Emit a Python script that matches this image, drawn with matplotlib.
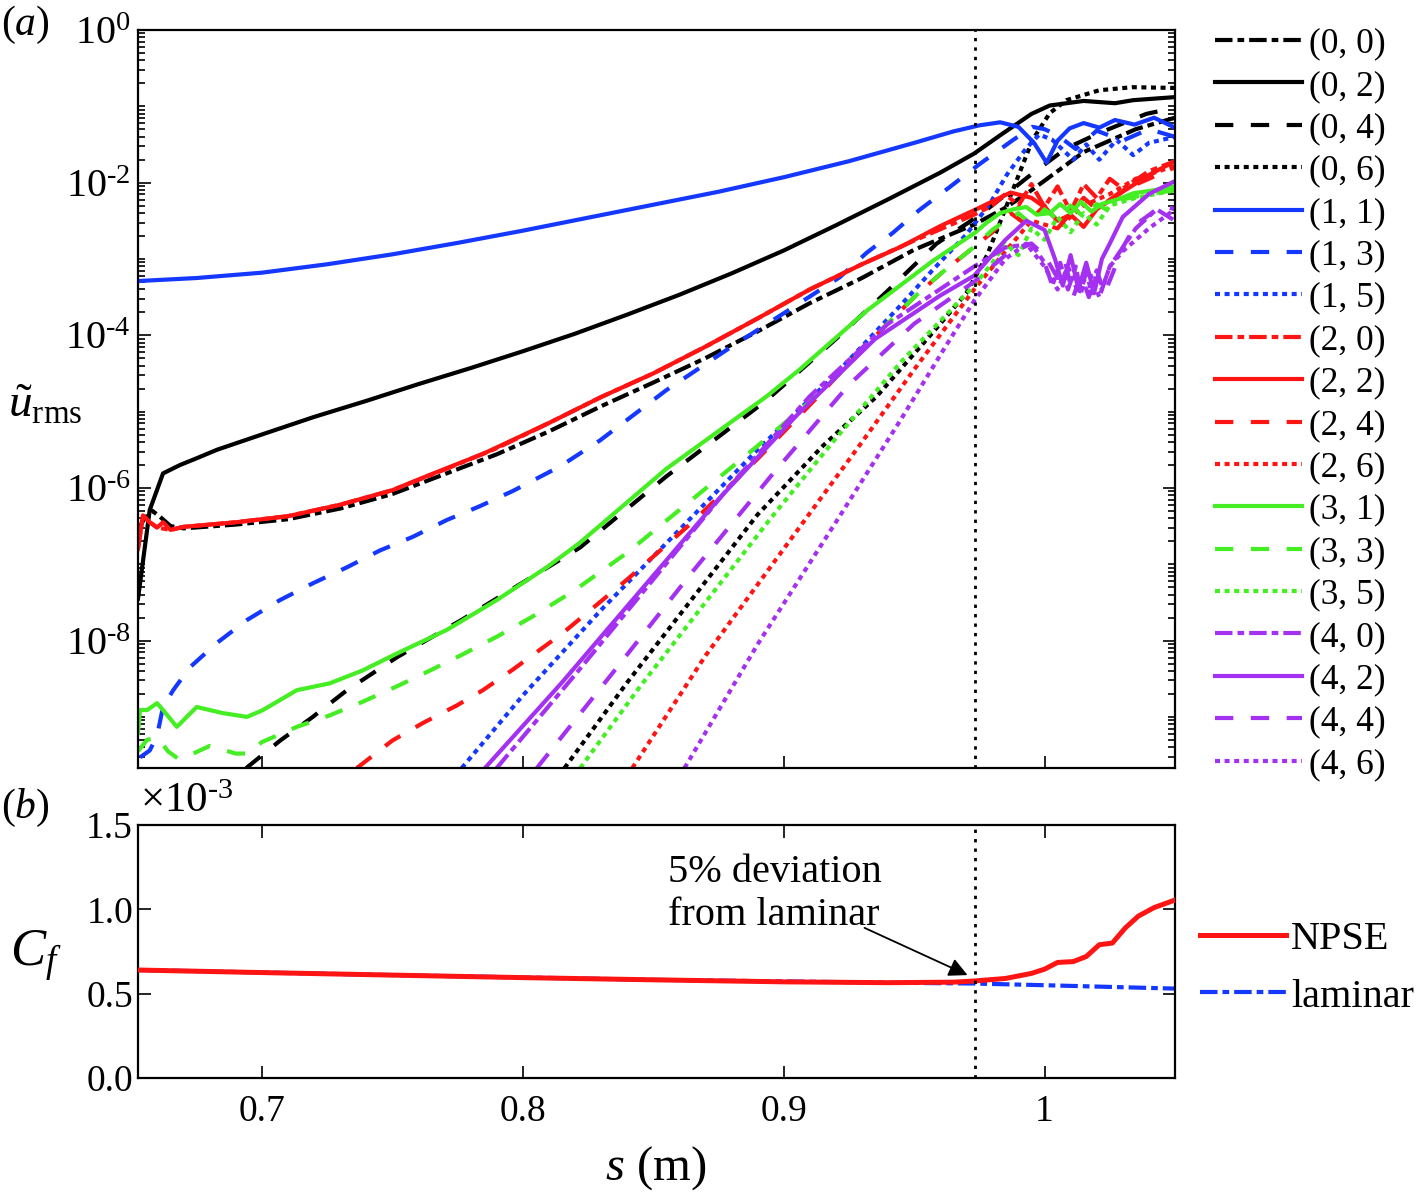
import numpy as np
import matplotlib
matplotlib.use('Agg')
import matplotlib.pyplot as plt
from matplotlib.ticker import FixedLocator, FixedFormatter, NullFormatter

plt.rcParams['font.family'] = ['Liberation Serif', 'DejaVu Serif']
plt.rcParams['mathtext.fontset'] = 'custom'
plt.rcParams['mathtext.rm'] = 'Liberation Serif'
plt.rcParams['mathtext.it'] = 'Liberation Serif:italic'
plt.rcParams['mathtext.bf'] = 'Liberation Serif:bold'
plt.rcParams['axes.unicode_minus'] = False

# ---- data: s (m) and log10 of u_rms for each mode (m, n) ----
s_00 = [0.6525, 0.655, 0.658, 0.661, 0.665, 0.67, 0.69, 0.71, 0.73, 0.75, 0.77, 0.79, 0.81, 0.83, 0.85, 0.87, 0.89, 0.91, 0.93, 0.95, 0.973, 0.985, 0.995, 1.005, 1.015, 1.025, 1.035, 1.05]
lg_00 = [-6.55, -6.40, -6.30, -6.38, -6.50, -6.53, -6.48, -6.41, -6.27, -6.08, -5.82, -5.56, -5.26, -4.93, -4.62, -4.30, -3.95, -3.58, -3.25, -2.88, -2.55, -2.33, -2.10, -1.85, -1.60, -1.45, -1.30, -1.15]

s_02 = [0.6525, 0.6533, 0.657, 0.6621, 0.6686, 0.6751, 0.6828, 0.70, 0.72, 0.74, 0.76, 0.78, 0.80, 0.82, 0.84, 0.86, 0.88, 0.90, 0.92, 0.94, 0.96, 0.973, 0.983, 0.995, 1.002, 1.015, 1.027, 1.034, 1.05]
lg_02 = [-7.45, -7.25, -6.29, -5.81, -5.70, -5.61, -5.50, -5.30, -5.07, -4.86, -4.64, -4.43, -4.21, -3.98, -3.73, -3.47, -3.19, -2.89, -2.56, -2.22, -1.87, -1.62, -1.38, -1.10, -0.99, -0.93, -0.96, -0.92, -0.88]

s_04 = [0.694, 0.707, 0.7195, 0.7326, 0.7517, 0.777, 0.80, 0.822, 0.855, 0.8935, 0.92, 0.9395, 0.9586, 0.971, 0.978, 0.9954, 1.0084, 1.021, 1.039, 1.05]
lg_04 = [-9.67, -9.31, -9.00, -8.65, -8.22, -7.72, -7.24, -6.78, -5.85, -4.85, -4.05, -3.43, -2.80, -2.52, -2.35, -1.88, -1.55, -1.35, -1.10, -1.02]

s_06 = [0.816, 0.84, 0.865, 0.89, 0.915, 0.9357, 0.957, 0.970, 0.978, 0.9855, 0.9954, 1.002, 1.0084, 1.021, 1.0337, 1.05]
lg_06 = [-9.67, -8.55, -7.45, -6.35, -5.45, -4.80, -3.97, -3.45, -2.95, -2.30, -1.44, -1.09, -0.92, -0.79, -0.75, -0.76]

s_11 = [0.6525, 0.675, 0.70, 0.725, 0.75, 0.775, 0.80, 0.825, 0.85, 0.875, 0.90, 0.925, 0.95, 0.965, 0.975, 0.983, 0.990, 0.996, 1.0008, 1.005, 1.0096, 1.015, 1.021, 1.027, 1.0345, 1.042, 1.05]
lg_11 = [-3.29, -3.25, -3.18, -3.07, -2.94, -2.79, -2.63, -2.46, -2.29, -2.12, -1.93, -1.72, -1.48, -1.33, -1.25, -1.21, -1.27, -1.48, -1.74, -1.45, -1.29, -1.22, -1.28, -1.18, -1.24, -1.15, -1.28]

s_13 = [0.6533, 0.657, 0.6598, 0.6621, 0.666, 0.6724, 0.6828, 0.6943, 0.7069, 0.7195, 0.7326, 0.7452, 0.7579, 0.7709, 0.7835, 0.7962, 0.8142, 0.8295, 0.855, 0.88, 0.9015, 0.9215, 0.9318, 0.9418, 0.952, 0.9636, 0.975, 0.988, 0.9954, 1.0, 1.005, 1.012, 1.02, 1.03, 1.04, 1.05]
lg_13 = [-9.53, -9.44, -9.25, -8.87, -8.65, -8.35, -8.03, -7.73, -7.47, -7.25, -7.04, -6.82, -6.64, -6.42, -6.24, -6.04, -5.72, -5.38, -4.72, -4.15, -3.68, -3.24, -2.92, -2.66, -2.36, -2.06, -1.76, -1.44, -1.27, -1.30, -1.38, -1.56, -1.32, -1.45, -1.30, -1.40]

s_15 = [0.7766, 0.80, 0.83, 0.86, 0.89, 0.9188, 0.9318, 0.9445, 0.957, 0.970, 0.979, 0.9855, 0.993, 0.998, 1.003, 1.011, 1.016, 1.021, 1.0276, 1.034, 1.04, 1.05]
lg_15 = [-9.67, -8.72, -7.60, -6.55, -5.50, -4.55, -4.08, -3.62, -3.15, -2.68, -2.28, -1.90, -1.55, -1.37, -1.44, -1.70, -1.50, -1.70, -1.44, -1.64, -1.48, -1.40]

s_20 = [0.6525, 0.6544, 0.657, 0.66, 0.665, 0.67, 0.69, 0.71, 0.73, 0.75, 0.77, 0.79, 0.81, 0.83, 0.85, 0.87, 0.89, 0.91, 0.93, 0.95, 0.973, 0.98, 0.985, 0.99, 0.995, 1.0, 1.005, 1.01, 1.015, 1.02, 1.025, 1.03, 1.04, 1.05]
lg_20 = [-6.80, -6.36, -6.45, -6.52, -6.55, -6.51, -6.45, -6.37, -6.22, -6.03, -5.76, -5.48, -5.15, -4.81, -4.50, -4.15, -3.78, -3.40, -3.07, -2.76, -2.42, -2.30, -2.15, -2.30, -2.02, -2.32, -2.05, -2.38, -2.02, -2.20, -1.95, -2.08, -1.85, -1.72]

s_22 = [0.6525, 0.6544, 0.657, 0.6598, 0.6621, 0.665, 0.67, 0.69, 0.71, 0.73, 0.75, 0.765, 0.785, 0.81, 0.83, 0.85, 0.87, 0.89, 0.91, 0.93, 0.945, 0.96, 0.975, 0.987, 0.995, 1.0, 1.005, 1.01, 1.015, 1.02, 1.03, 1.04, 1.05]
lg_22 = [-6.80, -6.36, -6.45, -6.52, -6.45, -6.55, -6.51, -6.45, -6.37, -6.22, -6.03, -5.82, -5.55, -5.15, -4.81, -4.50, -4.15, -3.78, -3.40, -3.07, -2.84, -2.57, -2.33, -2.13, -2.20, -2.32, -2.50, -2.42, -2.58, -2.35, -2.12, -1.90, -1.72]

s_24 = [0.7364, 0.75, 0.7617, 0.7747, 0.7847, 0.7962, 0.8154, 0.84, 0.865, 0.89, 0.9138, 0.9226, 0.9318, 0.9406, 0.951, 0.961, 0.9724, 0.98, 0.987, 0.993, 1.0, 1.005, 1.01, 1.015, 1.02, 1.03, 1.04, 1.05]
lg_24 = [-9.67, -9.31, -9.08, -8.85, -8.65, -8.38, -7.90, -7.20, -6.45, -5.62, -4.78, -4.46, -4.13, -3.82, -3.47, -3.17, -2.86, -2.65, -2.40, -2.55, -2.30, -2.60, -2.40, -2.20, -2.35, -2.10, -1.95, -1.80]

s_26 = [0.842, 0.87, 0.90, 0.93, 0.95, 0.973, 0.985, 0.995, 1.005, 1.015, 1.025, 1.035, 1.05]
lg_26 = [-9.67, -8.20, -6.80, -5.40, -4.45, -3.40, -2.90, -2.50, -2.60, -2.30, -2.15, -1.95, -1.78]

s_31 = [0.6525, 0.6533, 0.656, 0.6598, 0.6621, 0.6674, 0.675, 0.685, 0.6943, 0.7004, 0.7134, 0.726, 0.7387, 0.7517, 0.7709, 0.79, 0.8092, 0.8218, 0.855, 0.8935, 0.9061, 0.9318, 0.957, 0.9732, 0.978, 0.983, 0.988, 0.993, 0.997, 1.002, 1.006, 1.01, 1.014, 1.018, 1.022, 1.028, 1.034, 1.042, 1.05]
lg_31 = [-9.21, -8.91, -8.91, -8.82, -8.91, -9.13, -8.87, -8.95, -9.00, -8.91, -8.65, -8.56, -8.39, -8.17, -7.86, -7.47, -7.04, -6.72, -5.75, -4.80, -4.45, -3.68, -3.03, -2.66, -2.52, -2.40, -2.35, -2.32, -2.42, -2.40, -2.28, -2.40, -2.25, -2.38, -2.28, -2.22, -2.14, -2.10, -2.05]

s_33 = [0.6525, 0.656, 0.66, 0.664, 0.668, 0.6724, 0.68, 0.69, 0.6943, 0.70, 0.7134, 0.726, 0.7387, 0.7517, 0.764, 0.777, 0.79, 0.803, 0.8195, 0.84, 0.865, 0.89, 0.9138, 0.9226, 0.9318, 0.9406, 0.951, 0.961, 0.9724, 0.98, 0.985, 0.99, 0.995, 1.0, 1.005, 1.01, 1.015, 1.02, 1.025, 1.03, 1.04, 1.05]
lg_33 = [-9.45, -9.30, -9.27, -9.45, -9.55, -9.50, -9.38, -9.48, -9.48, -9.33, -9.13, -8.98, -8.80, -8.60, -8.40, -8.18, -7.95, -7.70, -7.35, -6.85, -6.15, -5.45, -4.76, -4.46, -4.13, -3.82, -3.47, -3.17, -2.86, -2.62, -2.50, -2.40, -2.55, -2.35, -2.48, -2.30, -2.45, -2.28, -2.38, -2.22, -2.15, -2.10]

s_35 = [0.822, 0.845, 0.87, 0.895, 0.92, 0.945, 0.973, 0.98, 0.985, 0.99, 0.995, 1.0, 1.005, 1.01, 1.015, 1.02, 1.025, 1.035, 1.05]
lg_35 = [-9.67, -8.60, -7.50, -6.40, -5.35, -4.35, -3.35, -3.05, -2.80, -2.95, -2.60, -2.75, -2.45, -2.65, -2.40, -2.55, -2.30, -2.20, -2.10]

s_40 = [0.790, 0.82, 0.85, 0.88, 0.91, 0.94, 0.973, 0.985, 0.995, 1.0, 1.003, 1.006, 1.009, 1.012, 1.014, 1.016, 1.018, 1.02, 1.022, 1.025, 1.03, 1.035, 1.043, 1.05]
lg_40 = [-9.67, -8.45, -7.20, -5.95, -4.80, -3.85, -3.10, -2.85, -2.80, -3.05, -3.35, -3.05, -3.40, -3.10, -3.45, -3.15, -3.45, -3.20, -3.40, -3.10, -2.85, -2.60, -2.35, -2.50]

s_42 = [0.7855, 0.815, 0.845, 0.875, 0.905, 0.935, 0.96, 0.973, 0.985, 0.993, 1.0, 1.004, 1.007, 1.01, 1.013, 1.016, 1.019, 1.022, 1.025, 1.03, 1.04, 1.05]
lg_42 = [-9.67, -8.55, -7.35, -6.15, -5.05, -4.05, -3.48, -3.22, -2.75, -2.50, -2.62, -3.00, -3.35, -2.95, -3.40, -3.05, -3.45, -3.00, -2.80, -2.45, -2.15, -1.98]

s_44 = [0.8054, 0.835, 0.865, 0.895, 0.925, 0.95, 0.973, 0.985, 0.995, 1.0, 1.005, 1.008, 1.011, 1.014, 1.017, 1.02, 1.023, 1.026, 1.03, 1.035, 1.045, 1.05]
lg_44 = [-9.67, -8.40, -7.10, -5.85, -4.65, -3.85, -3.30, -2.95, -2.80, -2.95, -3.25, -3.05, -3.50, -3.20, -3.50, -3.15, -3.45, -3.20, -2.85, -2.55, -2.30, -2.35]

s_46 = [0.862, 0.89, 0.92, 0.945, 0.962, 0.973, 0.985, 0.993, 1.0, 1.005, 1.009, 1.013, 1.017, 1.021, 1.025, 1.03, 1.04, 1.05]
lg_46 = [-9.67, -8.05, -6.45, -5.10, -4.15, -3.55, -3.00, -2.80, -3.10, -3.40, -3.10, -3.45, -3.15, -3.50, -3.10, -2.90, -2.60, -2.35]

# skin friction (x 1e-3)
s_cf = [0.6525, 0.70, 0.75, 0.80, 0.85, 0.90, 0.94, 0.965, 0.973, 0.985, 0.995, 1.0, 1.005, 1.011, 1.016, 1.021, 1.026, 1.031, 1.036, 1.042, 1.05]
cf_npse = [0.64, 0.625, 0.61, 0.595, 0.582, 0.57, 0.565, 0.568, 0.575, 0.59, 0.62, 0.645, 0.685, 0.69, 0.72, 0.79, 0.80, 0.89, 0.96, 1.01, 1.055]
s_lam = [0.6525, 0.75, 0.85, 0.94, 0.973, 1.0, 1.05]
cf_lam = [0.64, 0.61, 0.582, 0.565, 0.56, 0.55, 0.53]

s_dev = 0.9732

modes = [('(0, 0)', s_00, lg_00), ('(0, 2)', s_02, lg_02), ('(0, 4)', s_04, lg_04), ('(0, 6)', s_06, lg_06),
         ('(1, 1)', s_11, lg_11), ('(1, 3)', s_13, lg_13), ('(1, 5)', s_15, lg_15),
         ('(2, 0)', s_20, lg_20), ('(2, 2)', s_22, lg_22), ('(2, 4)', s_24, lg_24), ('(2, 6)', s_26, lg_26),
         ('(3, 1)', s_31, lg_31), ('(3, 3)', s_33, lg_33), ('(3, 5)', s_35, lg_35),
         ('(4, 0)', s_40, lg_40), ('(4, 2)', s_42, lg_42), ('(4, 4)', s_44, lg_44), ('(4, 6)', s_46, lg_46)]

colors = {0: 'black', 1: '#1438ff', 2: '#ff1414', 3: '#44ee22', 4: '#a431f2'}
# n -> style: 0 dash-dot, 1/2 solid, 3/4 dashed, 5/6 dotted
dashes = {0: (4.2, 1.2, 1.6, 1.2), 1: None, 2: None, 3: (4.4, 4.2), 4: (4.4, 4.2), 5: (1.2, 1.1), 6: (1.2, 1.1)}

fig = plt.figure(figsize=(14.18, 11.93), dpi=100)
ax1 = fig.add_axes([0.0973, 0.3562, 0.7313, 0.6187])
ax2 = fig.add_axes([0.0973, 0.0964, 0.7313, 0.2121])

lw = 3.0
for lab, s, lg in modes:
    m = int(lab[1]); n = int(lab[4])
    line, = ax1.plot(s, 10.0 ** np.array(lg), color=colors[m], lw=lw, label=lab)
    if dashes[n] is not None:
        line.set_dashes(dashes[n])

ax1.axvline(s_dev, color='k', lw=2.0, dashes=(1.2, 2.2), zorder=5)
ax1.set_yscale('log')
ax1.set_xlim(0.6525, 1.05)
ax1.set_ylim(10 ** -9.67, 1.0)
major = [1e-8, 1e-6, 1e-4, 1e-2, 1e0]
ax1.yaxis.set_major_locator(FixedLocator(major))
ax1.yaxis.set_major_formatter(FixedFormatter([r'$10^{\text{-}8}$', r'$10^{\text{-}6}$', r'$10^{\text{-}4}$',
                                              r'$10^{\text{-}2}$', r'$10^{0}$']))
minor = [k * 10.0 ** e for e in range(-10, 1) for k in range(1, 10) if not (k == 1 and e % 2 == 0)]
ax1.yaxis.set_minor_locator(FixedLocator(minor))
ax1.yaxis.set_minor_formatter(NullFormatter())
ax1.set_xticks([0.7, 0.8, 0.9, 1.0])
ax1.set_xticklabels([])
ax1.tick_params(axis='y', which='both', direction='in', left=True, right=True, labelsize=29, width=1.2, pad=5)
ax1.tick_params(axis='y', which='major', length=9)
ax1.tick_params(axis='y', which='minor', length=5)
ax1.tick_params(axis='x', direction='in', bottom=True, top=False, length=9, width=1.2)
for sp in ax1.spines.values():
    sp.set_linewidth(1.6)

ax1.legend(loc='upper left', bbox_to_anchor=(0.857, 0.977), bbox_transform=fig.transFigure,
           frameon=False, fontsize=25.5, handlelength=2.45, handletextpad=0.2, labelspacing=0.265,
           borderpad=0, borderaxespad=0)

# bottom panel
ax2.plot(s_lam, cf_lam, color='#1438ff', lw=3.0, dashes=(4.2, 1.2, 1.6, 1.2), label='laminar', zorder=2)
ax2.plot(s_cf, cf_npse, color='#ff1414', lw=3.6, label='NPSE', zorder=3)
ax2.axvline(s_dev, color='k', lw=2.0, dashes=(1.2, 2.2), zorder=5)
ax2.set_xlim(0.6525, 1.05)
ax2.set_ylim(0, 1.5)
ax2.set_xticks([0.7, 0.8, 0.9, 1.0])
ax2.set_xticklabels(['0.7', '0.8', '0.9', '1'])
ax2.set_yticks([0, 0.5, 1.0, 1.5])
ax2.set_yticklabels(['0.0', '0.5', '1.0', '1.5'])
ax2.tick_params(which='both', direction='in', left=True, right=True, top=True, bottom=True,
                labelsize=27, length=9, width=1.2)
ax2.tick_params(axis='x', pad=12)
for sp in ax2.spines.values():
    sp.set_linewidth(1.6)

h, l = ax2.get_legend_handles_labels()
ax2.legend(h[::-1], l[::-1], loc='upper left', bbox_to_anchor=(0.846, 0.228), bbox_transform=fig.transFigure,
           frameon=False, fontsize=29, handlelength=2.15, handletextpad=0.12, labelspacing=0.5,
           borderpad=0, borderaxespad=0)

ax2.text(0.8556, 1.33, '5% deviation\nfrom laminar', fontsize=29, va='top', ha='left', linespacing=1.22)
ax2.annotate('', xy=(0.9705, 0.61), xytext=(0.931, 0.89),
             arrowprops=dict(arrowstyle='-|>', color='k', lw=1.3, mutation_scale=28,
                             shrinkA=0, shrinkB=0))

fig.text(0.001, 0.979, r'$(a)$', fontsize=30, va='center', ha='left')
fig.text(0.001, 0.3227, r'$(b)$', fontsize=30, va='center', ha='left')
fig.text(0.032, 0.66, r'$\tilde{u}_{\mathrm{rms}}$', fontsize=34, va='center', ha='center')
fig.text(0.025, 0.199, r'$C_f$', fontsize=38, va='center', ha='center')
fig.text(0.462, 0.021, r'$s$ (m)', fontsize=35, va='center', ha='center')
fig.text(0.0987, 0.328, r'$\times 10^{\text{-}3}$', fontsize=31, va='center', ha='left')

fig.savefig('out.png', dpi=100)
